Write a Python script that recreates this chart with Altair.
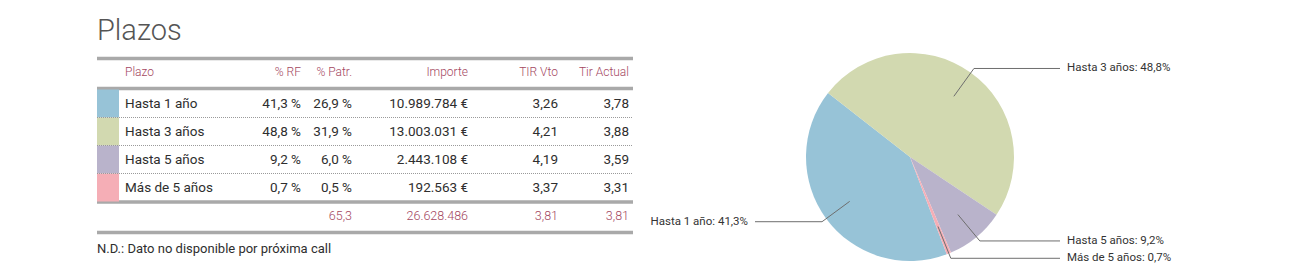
import math
import altair as alt
import pandas as pd

# ---------------- data ----------------
plazos = ["Hasta 1 año", "Hasta 3 años", "Hasta 5 años", "Más de 5 años"]
pct_rf = [41.3, 48.8, 9.2, 0.7]
pct_patr = [26.9, 31.9, 6.0, 0.5]
importe = [10989784, 13003031, 2443108, 192563]
tir_vto = [3.26, 4.21, 4.19, 3.37]
tir_actual = [3.78, 3.88, 3.59, 3.31]
headers = ["Plazo", "% RF", "% Patr.", "Importe", "TIR Vto", "Tir Actual"]
total_patr = 65.3
total_importe = 26628486
total_tir_vto = 3.81
total_tir_actual = 3.81
title_text = "Plazos"
note_text = "N.D.: Dato no disponible por próxima call"
colors = ["#97c3d7", "#d2d9b0", "#b9b3cb", "#f5aeb6"]
pie_order = ["Hasta 3 años", "Hasta 5 años", "Más de 5 años", "Hasta 1 año"]

# ---------------- layout / style ----------------
W, H = 1307, 278
X0, X1 = 97, 633
BODY_FONT = "Roboto"
HEAD_COLOR = "#a4475f"
TEXT_COLOR = "#2e2e2e"
RULE_COLOR = "#a9a9a9"
col_right = [None, 301, 352, 468, 558, 629]
PIE_CX, PIE_CY, PIE_R = 910, 157, 104
PIE_START = -52.0  # degrees, clockwise from 12 o'clock


def es(v, dec):
    s = f"{v:,.{dec}f}"
    return s.replace(",", "X").replace(".", ",").replace("X", ".")


df = pd.DataFrame({
    "plazo": plazos,
    "rf": pct_rf,
    "rf_txt": [es(v, 1) + " %" for v in pct_rf],
    "patr_txt": [es(v, 1) + " %" for v in pct_patr],
    "imp_txt": [es(v, 0) + " €" for v in importe],
    "vto_txt": [es(v, 2) for v in tir_vto],
    "act_txt": [es(v, 2) for v in tir_actual],
    "ord": [pie_order.index(p) for p in plazos],
})

band_y = alt.Scale(domain=plazos, range=[89.5, 201.5], paddingInner=0, paddingOuter=0)
color_scale = alt.Scale(domain=plazos, range=colors)
one = pd.DataFrame({"k": [0]})

layers = []

# title
layers.append(alt.Chart(one).mark_text(
    text=title_text, align="left", baseline="alphabetic", font=BODY_FONT,
    fontWeight=300, fontSize=29, color="#555555"
).encode(x=alt.value(X0), y=alt.value(40)))

# thick gray rules
for yy in [58.5, 88.5, 202, 232.5]:
    layers.append(alt.Chart(one).mark_rule(color=RULE_COLOR, strokeWidth=3.5).encode(
        x=alt.value(X0), x2=alt.value(X1), y=alt.value(yy)))

# header labels
for i, h in enumerate(headers):
    if i == 0:
        xx, al = 125, "left"
    else:
        xx, al = col_right[i], "right"
    layers.append(alt.Chart(one).mark_text(
        text=h, align=al, baseline="middle", font=BODY_FONT, fontWeight=300,
        fontSize=12, color=HEAD_COLOR
    ).encode(x=alt.value(xx), y=alt.value(72)))

# colour swatches
layers.append(alt.Chart(df).mark_rect().encode(
    x=alt.value(X0), x2=alt.value(119),
    y=alt.Y("plazo:N", scale=band_y, axis=None),
    color=alt.Color("plazo:N", scale=color_scale, legend=None)))

# dotted separators
layers.append(alt.Chart(df[df["plazo"] != plazos[0]]).mark_rule(
    color="#9a9a9a", strokeWidth=1, strokeDash=[1, 1]
).encode(
    x=alt.value(X0), x2=alt.value(X1),
    y=alt.Y("plazo:N", scale=band_y, axis=None, bandPosition=0)))

# body text
body_cols = [("plazo", 125, "left"), ("rf_txt", col_right[1], "right"),
             ("patr_txt", col_right[2], "right"), ("imp_txt", col_right[3], "right"),
             ("vto_txt", col_right[4], "right"), ("act_txt", col_right[5], "right")]
for field, xx, al in body_cols:
    layers.append(alt.Chart(df).mark_text(
        align=al, baseline="middle", font=BODY_FONT, fontSize=13.5, color=TEXT_COLOR
    ).encode(
        x=alt.value(xx),
        y=alt.Y("plazo:N", scale=band_y, axis=None),
        text=alt.Text(f"{field}:N")))

# totals
totals = [(es(total_patr, 1), col_right[2]), (es(total_importe, 0), col_right[3]),
          (es(total_tir_vto, 2), col_right[4]), (es(total_tir_actual, 2), col_right[5])]
for t, xx in totals:
    layers.append(alt.Chart(one).mark_text(
        text=t, align="right", baseline="middle", font=BODY_FONT, fontWeight=300,
        fontSize=12.5, color=HEAD_COLOR
    ).encode(x=alt.value(xx), y=alt.value(216)))

# footnote
layers.append(alt.Chart(one).mark_text(
    text=note_text, align="left", baseline="middle", font=BODY_FONT,
    fontSize=13, color=TEXT_COLOR
).encode(x=alt.value(X0), y=alt.value(249)))

# pie
start = math.radians(PIE_START)
layers.append(alt.Chart(df).mark_arc(outerRadius=PIE_R, stroke=None).encode(
    x=alt.value(PIE_CX), y=alt.value(PIE_CY),
    theta=alt.Theta("rf:Q", stack=True,
                    scale=alt.Scale(range=[start, start + 2 * math.pi])),
    order=alt.Order("ord:Q"),
    color=alt.Color("plazo:N", scale=color_scale, legend=None)))

# leader lines + labels computed from slice angles
total = sum(pct_rf)
rows_line, rows_lab = [], []
cum = PIE_START
for p in pie_order:
    v = pct_rf[plazos.index(p)]
    span = v / total * 360.0
    mid = math.radians(cum + span / 2)
    cum += span
    sx, cy = math.sin(mid), -math.cos(mid)
    p0 = (PIE_CX + 0.72 * PIE_R * sx, PIE_CY + 0.72 * PIE_R * cy)
    p1 = (PIE_CX + 1.05 * PIE_R * sx, PIE_CY + 1.05 * PIE_R * cy)
    right = sx >= 0
    endx = 1060 if right else 755
    pts = [p0, p1, (endx, p1[1])]
    for i, (a, b) in enumerate(pts):
        rows_line.append({"plazo": p, "i": i, "px": a, "py": b})
    rows_lab.append({"plazo": p, "side": "r" if right else "l",
                     "px": endx + (7 if right else -7), "py": p1[1],
                     "lab": f"{p}: {es(v, 1)}%"})
lines_df = pd.DataFrame(rows_line)
labs_df = pd.DataFrame(rows_lab)

px_scale = alt.Scale(domain=[0, W], range=[0, W], nice=False, zero=False)
py_scale = alt.Scale(domain=[0, H], range=[0, H], nice=False, zero=False)

layers.append(alt.Chart(lines_df).mark_line(color="#6e6e6e", strokeWidth=1).encode(
    x=alt.X("px:Q", scale=px_scale, axis=None),
    y=alt.Y("py:Q", scale=py_scale, axis=None),
    detail="plazo:N",
    order="i:Q"))

for side, al in [("r", "left"), ("l", "right")]:
    layers.append(alt.Chart(labs_df[labs_df["side"] == side]).mark_text(
        align=al, baseline="middle", font=BODY_FONT, fontSize=11.5, color="#333333"
    ).encode(
        x=alt.X("px:Q", scale=px_scale, axis=None),
        y=alt.Y("py:Q", scale=py_scale, axis=None),
        text="lab:N"))

chart = alt.layer(*layers).resolve_scale(
    x="independent", y="independent", color="shared", theta="independent"
).properties(
    width=W, height=H, padding=0, autosize=alt.AutoSizeParams(type="none"),
    background="white"
).configure_view(stroke=None)

chart.save("out.html", embed_options={"renderer": "svg", "actions": False})
